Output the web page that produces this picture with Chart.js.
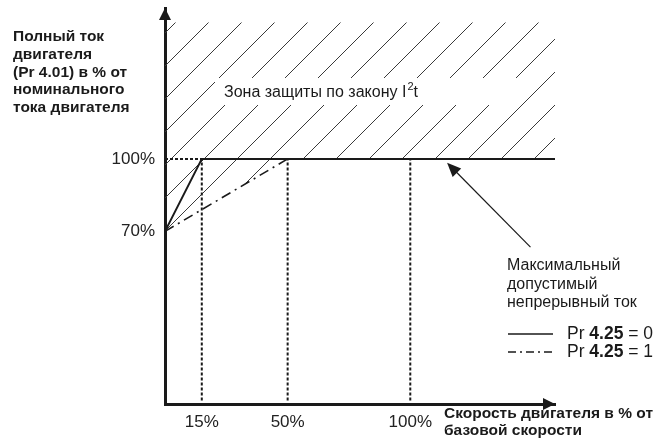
<!DOCTYPE html>
<html>
<head>
<meta charset="utf-8">
<script src="https://cdn.jsdelivr.net/npm/chart.js@4/dist/chart.umd.min.js"></script>
<style>
  html, body { margin: 0; padding: 0; background: #fff; }
  #wrap { width: 659px; height: 442px; }
</style>
</head>
<body>
<div id="wrap"><canvas id="chart" width="659" height="442"></canvas></div>
<script>
// axis ticks (percent)
const xTicks = [15, 50, 100];
const yTicks = [70, 100];

// Pr 4.25 = 0 : full line
const curve0X = [0, 15, 159];
const curve0Y = [70, 100, 100];
// Pr 4.25 = 1 : dash-dot line
const curve1X = [0, 50, 159];
const curve1Y = [70, 100, 100];

// top of the I2t protection zone (hatched)
const zoneTop = 156.5;
// dotted guides
const guideX = [15, 50, 100];
const guideY = 100;

const FONT = "'Liberation Sans', Arial, sans-serif";
const INK = '#1a1a1a';

function pts(xs, ys) {
    return xs.map((x, i) => ({ x: x, y: ys[i] }));
}

function makeHatch() {
    const s = 33;
    const c = document.createElement('canvas');
    c.width = s; c.height = s;
    const g = c.getContext('2d');
    g.strokeStyle = '#3a3a3a';
    g.lineWidth = 1;
    g.beginPath();
    g.moveTo(0, s); g.lineTo(s, 0);
    g.moveTo(-2, 2); g.lineTo(2, -2);
    g.moveTo(s - 2, s + 2); g.lineTo(s + 2, s - 2);
    g.stroke();
    return g.createPattern(c, 'repeat');
}

const datasets = [
    {   // hatched zone, filled down to the dash-dot curve
        data: pts([0, 159], [zoneTop, zoneTop]),
        borderWidth: 0,
        pointRadius: 0,
        backgroundColor: makeHatch(),
        fill: '+1',
        order: 10
    },
    {
        data: pts(curve1X, curve1Y),
        borderColor: INK,
        borderWidth: 1.6,
        borderDash: [10, 5, 2, 5],
        pointRadius: 0,
        fill: false,
        order: 2
    },
    {
        data: pts(curve0X, curve0Y),
        borderColor: INK,
        borderWidth: 2,
        pointRadius: 0,
        fill: false,
        order: 1
    },
    {
        data: pts([0, guideX[0]], [guideY, guideY]),
        borderColor: INK,
        borderWidth: 2,
        borderDash: [3, 2],
        pointRadius: 0,
        fill: false,
        order: 3
    }
];
guideX.forEach(gx => {
    datasets.push({
        data: pts([gx, gx], [0, guideY]),
        borderColor: INK,
        borderWidth: 2,
        borderDash: [3, 2],
        pointRadius: 0,
        fill: false,
        order: 3
    });
});

function arrowHead(ctx, x1, y1, x2, y2, len, half) {
    const a = Math.atan2(y2 - y1, x2 - x1);
    ctx.beginPath();
    ctx.moveTo(x2, y2);
    ctx.lineTo(x2 - len * Math.cos(a) + half * Math.sin(a), y2 - len * Math.sin(a) - half * Math.cos(a));
    ctx.lineTo(x2 - len * Math.cos(a) - half * Math.sin(a), y2 - len * Math.sin(a) + half * Math.cos(a));
    ctx.closePath();
    ctx.fill();
}

const decorations = {
    id: 'decorations',
    afterDraw(chart) {
        const ctx = chart.ctx;
        const a = chart.chartArea;
        const xs = chart.scales.x, ys = chart.scales.y;
        ctx.save();
        ctx.fillStyle = INK;
        ctx.strokeStyle = INK;

        // axis arrows
        arrowHead(ctx, a.left, a.top + 20, a.left, a.top, 12, 6);
        arrowHead(ctx, a.right - 20, a.bottom, a.right, a.bottom, 12, 6);

        // zone label with white gap in the hatch
        ctx.fillStyle = '#fff';
        ctx.fillRect(215, 78, 305, 27);
        ctx.fillStyle = INK;
        ctx.font = '16px ' + FONT;
        ctx.textBaseline = 'alphabetic';
        ctx.textAlign = 'left';
        const zText = 'Зона защиты по закону I';
        ctx.fillText(zText, 224, 97);
        let w = ctx.measureText(zText).width;
        ctx.font = '11px ' + FONT;
        ctx.fillText('2', 224 + w + 1, 90);
        const w2 = ctx.measureText('2').width;
        ctx.font = '16px ' + FONT;
        ctx.fillText('t', 224 + w + w2 + 1, 97);

        // left title
        ctx.font = 'bold 15.5px ' + FONT;
        ctx.textBaseline = 'middle';
        ['Полный ток', 'двигателя', '(Pr 4.01) в % от', 'номинального', 'тока двигателя']
            .forEach((t, i) => ctx.fillText(t, 13, 37 + i * 17.7));

        // x title
        ['Скорость двигателя в % от', 'базовой скорости']
            .forEach((t, i) => ctx.fillText(t, 444, 414 + i * 17));

        // pointer to max continuous current
        const tx = xs.getPixelForValue(149), ty = ys.getPixelForValue(63.5);
        const hx = xs.getPixelForValue(115), hy = ys.getPixelForValue(98.4);
        ctx.lineWidth = 1.2;
        ctx.beginPath();
        ctx.moveTo(tx, ty);
        ctx.lineTo(hx + 6, hy + 6);
        ctx.stroke();
        arrowHead(ctx, tx, ty, hx, hy, 14, 6);

        ctx.font = '16px ' + FONT;
        ['Максимальный', 'допустимый', 'непрерывный ток']
            .forEach((t, i) => ctx.fillText(t, 507, 266 + i * 18.3));

        // legend
        const items = [{ dash: [], y: 334, v: '0' }, { dash: [8, 4, 2, 4], y: 352, v: '1' }];
        items.forEach(it => {
            ctx.setLineDash(it.dash);
            ctx.lineWidth = 1.6;
            ctx.beginPath();
            ctx.moveTo(508, it.y);
            ctx.lineTo(553, it.y);
            ctx.stroke();
            ctx.setLineDash([]);
            let x = 567;
            ctx.font = '17.5px ' + FONT;
            ctx.fillText('Pr ', x, it.y);
            x += ctx.measureText('Pr ').width;
            ctx.font = 'bold 17.5px ' + FONT;
            ctx.fillText('4.25', x, it.y);
            x += ctx.measureText('4.25').width;
            ctx.font = '17.5px ' + FONT;
            ctx.fillText(' = ' + it.v, x, it.y);
        });
        ctx.restore();
    }
};

const ctx = document.getElementById('chart').getContext('2d');
const myChart = new Chart(ctx, {
    type: 'line',
    data: { datasets: datasets },
    options: {
        responsive: false,
        animation: false,
        layout: {
            padding: { left: 0, top: 8, right: 104, bottom: 0 }
        },
        plugins: {
            legend: { display: false },
            tooltip: { enabled: false }
        },
        scales: {
            x: {
                type: 'linear',
                min: 0,
                max: 159,
                afterFit: s => { s.height = 38; s.paddingLeft = 0; s.paddingRight = 0; },
                afterBuildTicks: s => { s.ticks = xTicks.map(v => ({ value: v })); },
                grid: { display: false, drawTicks: false },
                border: { display: true, color: INK, width: 3 },
                ticks: {
                    padding: 8,
                    color: '#222',
                    font: { family: FONT, size: 17 },
                    maxRotation: 0,
                    callback: v => v + '%'
                }
            },
            y: {
                type: 'linear',
                min: -1.5,
                max: 162.5,
                afterFit: s => { s.width = 165; s.paddingTop = 0; s.paddingBottom = 0; },
                afterBuildTicks: s => { s.ticks = yTicks.map(v => ({ value: v })); },
                grid: { display: false, drawTicks: false },
                border: { display: true, color: INK, width: 3 },
                ticks: {
                    padding: 10,
                    color: '#222',
                    font: { family: FONT, size: 17 },
                    callback: v => v + '%'
                }
            }
        }
    },
    plugins: [decorations]
});
</script>
</body>
</html>
